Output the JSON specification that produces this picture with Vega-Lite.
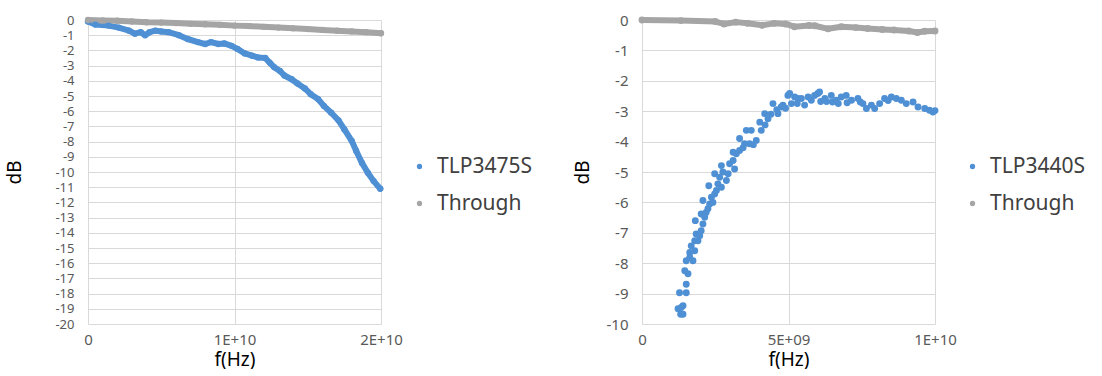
{
  "$schema": "https://vega.github.io/schema/vega-lite/v6.json",
  "background": "white",
  "padding": {"left": 5, "top": 13, "right": 0, "bottom": 0},
  "spacing": 41,
  "datasets": {
    "left": [
      {"f": 0, "db": -0.1, "s": "TLP3475S"},
      {"f": 5e8, "db": -0.3, "s": "TLP3475S"},
      {"f": 1.4e9, "db": -0.37, "s": "TLP3475S"},
      {"f": 2.1e9, "db": -0.5, "s": "TLP3475S"},
      {"f": 2.8e9, "db": -0.7, "s": "TLP3475S"},
      {"f": 3.2e9, "db": -0.9, "s": "TLP3475S"},
      {"f": 3.6e9, "db": -0.8, "s": "TLP3475S"},
      {"f": 3.9e9, "db": -1.0, "s": "TLP3475S"},
      {"f": 4.2e9, "db": -0.8, "s": "TLP3475S"},
      {"f": 4.6e9, "db": -0.7, "s": "TLP3475S"},
      {"f": 5.0e9, "db": -0.75, "s": "TLP3475S"},
      {"f": 5.5e9, "db": -0.8, "s": "TLP3475S"},
      {"f": 6.2e9, "db": -1.0, "s": "TLP3475S"},
      {"f": 6.8e9, "db": -1.25, "s": "TLP3475S"},
      {"f": 7.5e9, "db": -1.45, "s": "TLP3475S"},
      {"f": 8.0e9, "db": -1.58, "s": "TLP3475S"},
      {"f": 8.4e9, "db": -1.45, "s": "TLP3475S"},
      {"f": 8.9e9, "db": -1.58, "s": "TLP3475S"},
      {"f": 9.3e9, "db": -1.54, "s": "TLP3475S"},
      {"f": 9.8e9, "db": -1.7, "s": "TLP3475S"},
      {"f": 1.02e10, "db": -1.9, "s": "TLP3475S"},
      {"f": 1.07e10, "db": -2.2, "s": "TLP3475S"},
      {"f": 1.12e10, "db": -2.35, "s": "TLP3475S"},
      {"f": 1.16e10, "db": -2.46, "s": "TLP3475S"},
      {"f": 1.21e10, "db": -2.5, "s": "TLP3475S"},
      {"f": 1.24e10, "db": -2.8, "s": "TLP3475S"},
      {"f": 1.27e10, "db": -3.1, "s": "TLP3475S"},
      {"f": 1.31e10, "db": -3.35, "s": "TLP3475S"},
      {"f": 1.34e10, "db": -3.65, "s": "TLP3475S"},
      {"f": 1.39e10, "db": -3.9, "s": "TLP3475S"},
      {"f": 1.43e10, "db": -4.18, "s": "TLP3475S"},
      {"f": 1.48e10, "db": -4.5, "s": "TLP3475S"},
      {"f": 1.52e10, "db": -4.88, "s": "TLP3475S"},
      {"f": 1.57e10, "db": -5.2, "s": "TLP3475S"},
      {"f": 1.61e10, "db": -5.65, "s": "TLP3475S"},
      {"f": 1.66e10, "db": -6.1, "s": "TLP3475S"},
      {"f": 1.71e10, "db": -6.6, "s": "TLP3475S"},
      {"f": 1.75e10, "db": -7.2, "s": "TLP3475S"},
      {"f": 1.80e10, "db": -7.95, "s": "TLP3475S"},
      {"f": 1.83e10, "db": -8.6, "s": "TLP3475S"},
      {"f": 1.87e10, "db": -9.4, "s": "TLP3475S"},
      {"f": 1.91e10, "db": -10.05, "s": "TLP3475S"},
      {"f": 1.95e10, "db": -10.6, "s": "TLP3475S"},
      {"f": 1.995e10, "db": -11.1, "s": "TLP3475S"},
      {"f": 0, "db": 0, "s": "Through"},
      {"f": 1e9, "db": -0.03, "s": "Through"},
      {"f": 2e9, "db": -0.05, "s": "Through"},
      {"f": 3e9, "db": -0.1, "s": "Through"},
      {"f": 4e9, "db": -0.15, "s": "Through"},
      {"f": 5e9, "db": -0.17, "s": "Through"},
      {"f": 6e9, "db": -0.2, "s": "Through"},
      {"f": 7e9, "db": -0.25, "s": "Through"},
      {"f": 8e9, "db": -0.28, "s": "Through"},
      {"f": 9e9, "db": -0.32, "s": "Through"},
      {"f": 1e10, "db": -0.37, "s": "Through"},
      {"f": 1.1e10, "db": -0.4, "s": "Through"},
      {"f": 1.2e10, "db": -0.45, "s": "Through"},
      {"f": 1.3e10, "db": -0.5, "s": "Through"},
      {"f": 1.4e10, "db": -0.55, "s": "Through"},
      {"f": 1.5e10, "db": -0.6, "s": "Through"},
      {"f": 1.6e10, "db": -0.65, "s": "Through"},
      {"f": 1.7e10, "db": -0.7, "s": "Through"},
      {"f": 1.8e10, "db": -0.75, "s": "Through"},
      {"f": 1.9e10, "db": -0.8, "s": "Through"},
      {"f": 2e10, "db": -0.87, "s": "Through"}
    ],
    "right": [
      {"f": 1.23e9, "db": -9.5, "s": "TLP3440S"},
      {"f": 1.32e9, "db": -9.68, "s": "TLP3440S"},
      {"f": 1.34e9, "db": -9.46, "s": "TLP3440S"},
      {"f": 1.4e9, "db": -9.68, "s": "TLP3440S"},
      {"f": 1.4e9, "db": -9.4, "s": "TLP3440S"},
      {"f": 1.28e9, "db": -8.97, "s": "TLP3440S"},
      {"f": 1.51e9, "db": -8.97, "s": "TLP3440S"},
      {"f": 1.51e9, "db": -8.69, "s": "TLP3440S"},
      {"f": 1.46e9, "db": -8.25, "s": "TLP3440S"},
      {"f": 1.57e9, "db": -8.35, "s": "TLP3440S"},
      {"f": 1.51e9, "db": -7.92, "s": "TLP3440S"},
      {"f": 1.63e9, "db": -7.81, "s": "TLP3440S"},
      {"f": 1.74e9, "db": -7.92, "s": "TLP3440S"},
      {"f": 1.63e9, "db": -7.65, "s": "TLP3440S"},
      {"f": 1.68e9, "db": -7.43, "s": "TLP3440S"},
      {"f": 1.8e9, "db": -7.59, "s": "TLP3440S"},
      {"f": 1.8e9, "db": -7.26, "s": "TLP3440S"},
      {"f": 1.91e9, "db": -7.26, "s": "TLP3440S"},
      {"f": 1.85e9, "db": -7.04, "s": "TLP3440S"},
      {"f": 1.97e9, "db": -7.1, "s": "TLP3440S"},
      {"f": 2.02e9, "db": -6.93, "s": "TLP3440S"},
      {"f": 1.82e9, "db": -6.6, "s": "TLP3440S"},
      {"f": 2.08e9, "db": -6.71, "s": "TLP3440S"},
      {"f": 2.14e9, "db": -6.49, "s": "TLP3440S"},
      {"f": 2.02e9, "db": -6.38, "s": "TLP3440S"},
      {"f": 2.19e9, "db": -6.33, "s": "TLP3440S"},
      {"f": 2.08e9, "db": -5.94, "s": "TLP3440S"},
      {"f": 2.31e9, "db": -6.05, "s": "TLP3440S"},
      {"f": 2.25e9, "db": -6.21, "s": "TLP3440S"},
      {"f": 2.37e9, "db": -5.83, "s": "TLP3440S"},
      {"f": 2.28e9, "db": -5.45, "s": "TLP3440S"},
      {"f": 2.48e9, "db": -5.72, "s": "TLP3440S"},
      {"f": 2.42e9, "db": -6.0, "s": "TLP3440S"},
      {"f": 2.54e9, "db": -5.61, "s": "TLP3440S"},
      {"f": 2.59e9, "db": -5.39, "s": "TLP3440S"},
      {"f": 2.71e9, "db": -5.5, "s": "TLP3440S"},
      {"f": 2.48e9, "db": -5.06, "s": "TLP3440S"},
      {"f": 2.65e9, "db": -5.17, "s": "TLP3440S"},
      {"f": 2.76e9, "db": -5.0, "s": "TLP3440S"},
      {"f": 2.71e9, "db": -4.79, "s": "TLP3440S"},
      {"f": 2.88e9, "db": -5.28, "s": "TLP3440S"},
      {"f": 2.94e9, "db": -5.06, "s": "TLP3440S"},
      {"f": 2.99e9, "db": -4.73, "s": "TLP3440S"},
      {"f": 3.11e9, "db": -4.62, "s": "TLP3440S"},
      {"f": 3.16e9, "db": -4.9, "s": "TLP3440S"},
      {"f": 3.22e9, "db": -4.4, "s": "TLP3440S"},
      {"f": 3.33e9, "db": -4.29, "s": "TLP3440S"},
      {"f": 3.11e9, "db": -4.35, "s": "TLP3440S"},
      {"f": 3.33e9, "db": -3.9, "s": "TLP3440S"},
      {"f": 3.56e9, "db": -3.63, "s": "TLP3440S"},
      {"f": 3.73e9, "db": -3.63, "s": "TLP3440S"},
      {"f": 3.5e9, "db": -4.07, "s": "TLP3440S"},
      {"f": 3.67e9, "db": -4.07, "s": "TLP3440S"},
      {"f": 3.9e9, "db": -3.96, "s": "TLP3440S"},
      {"f": 3.45e9, "db": -4.2, "s": "TLP3440S"},
      {"f": 3.8e9, "db": -4.1, "s": "TLP3440S"},
      {"f": 4.02e9, "db": -3.36, "s": "TLP3440S"},
      {"f": 4.19e9, "db": -3.08, "s": "TLP3440S"},
      {"f": 4.07e9, "db": -3.63, "s": "TLP3440S"},
      {"f": 4.3e9, "db": -3.25, "s": "TLP3440S"},
      {"f": 4.2e9, "db": -3.45, "s": "TLP3440S"},
      {"f": 4.4e9, "db": -3.1, "s": "TLP3440S"},
      {"f": 4.47e9, "db": -2.75, "s": "TLP3440S"},
      {"f": 4.64e9, "db": -3.08, "s": "TLP3440S"},
      {"f": 4.6e9, "db": -2.95, "s": "TLP3440S"},
      {"f": 4.75e9, "db": -2.86, "s": "TLP3440S"},
      {"f": 4.81e9, "db": -2.8, "s": "TLP3440S"},
      {"f": 4.9e9, "db": -2.9, "s": "TLP3440S"},
      {"f": 4.98e9, "db": -2.48, "s": "TLP3440S"},
      {"f": 5.04e9, "db": -2.42, "s": "TLP3440S"},
      {"f": 5.1e9, "db": -2.75, "s": "TLP3440S"},
      {"f": 5.21e9, "db": -2.53, "s": "TLP3440S"},
      {"f": 5.32e9, "db": -2.58, "s": "TLP3440S"},
      {"f": 5.3e9, "db": -2.75, "s": "TLP3440S"},
      {"f": 5.44e9, "db": -2.58, "s": "TLP3440S"},
      {"f": 5.55e9, "db": -2.8, "s": "TLP3440S"},
      {"f": 5.67e9, "db": -2.53, "s": "TLP3440S"},
      {"f": 5.78e9, "db": -2.64, "s": "TLP3440S"},
      {"f": 5.89e9, "db": -2.48, "s": "TLP3440S"},
      {"f": 6.0e9, "db": -2.42, "s": "TLP3440S"},
      {"f": 6.06e9, "db": -2.37, "s": "TLP3440S"},
      {"f": 6.1e9, "db": -2.68, "s": "TLP3440S"},
      {"f": 6.24e9, "db": -2.58, "s": "TLP3440S"},
      {"f": 6.3e9, "db": -2.68, "s": "TLP3440S"},
      {"f": 6.46e9, "db": -2.48, "s": "TLP3440S"},
      {"f": 6.5e9, "db": -2.7, "s": "TLP3440S"},
      {"f": 6.63e9, "db": -2.64, "s": "TLP3440S"},
      {"f": 6.7e9, "db": -2.75, "s": "TLP3440S"},
      {"f": 6.8e9, "db": -2.53, "s": "TLP3440S"},
      {"f": 6.97e9, "db": -2.48, "s": "TLP3440S"},
      {"f": 7.0e9, "db": -2.72, "s": "TLP3440S"},
      {"f": 7.15e9, "db": -2.64, "s": "TLP3440S"},
      {"f": 7.37e9, "db": -2.58, "s": "TLP3440S"},
      {"f": 7.45e9, "db": -2.7, "s": "TLP3440S"},
      {"f": 7.54e9, "db": -2.75, "s": "TLP3440S"},
      {"f": 7.66e9, "db": -2.91, "s": "TLP3440S"},
      {"f": 7.83e9, "db": -2.8, "s": "TLP3440S"},
      {"f": 7.94e9, "db": -2.91, "s": "TLP3440S"},
      {"f": 8.11e9, "db": -2.75, "s": "TLP3440S"},
      {"f": 8.28e9, "db": -2.58, "s": "TLP3440S"},
      {"f": 8.4e9, "db": -2.65, "s": "TLP3440S"},
      {"f": 8.51e9, "db": -2.53, "s": "TLP3440S"},
      {"f": 8.68e9, "db": -2.58, "s": "TLP3440S"},
      {"f": 8.85e9, "db": -2.64, "s": "TLP3440S"},
      {"f": 9.02e9, "db": -2.75, "s": "TLP3440S"},
      {"f": 9.25e9, "db": -2.7, "s": "TLP3440S"},
      {"f": 9.42e9, "db": -2.86, "s": "TLP3440S"},
      {"f": 9.65e9, "db": -2.91, "s": "TLP3440S"},
      {"f": 9.81e9, "db": -2.97, "s": "TLP3440S"},
      {"f": 9.93e9, "db": -3.03, "s": "TLP3440S"},
      {"f": 1.0e10, "db": -2.98, "s": "TLP3440S"},
      {"f": 0, "db": 0, "s": "Through"},
      {"f": 1.33e9, "db": -0.02, "s": "Through"},
      {"f": 2.5e9, "db": -0.05, "s": "Through"},
      {"f": 2.8e9, "db": -0.13, "s": "Through"},
      {"f": 3.2e9, "db": -0.07, "s": "Through"},
      {"f": 3.6e9, "db": -0.11, "s": "Through"},
      {"f": 4.1e9, "db": -0.17, "s": "Through"},
      {"f": 4.5e9, "db": -0.11, "s": "Through"},
      {"f": 4.9e9, "db": -0.13, "s": "Through"},
      {"f": 5.2e9, "db": -0.22, "s": "Through"},
      {"f": 5.7e9, "db": -0.18, "s": "Through"},
      {"f": 5.9e9, "db": -0.19, "s": "Through"},
      {"f": 6.35e9, "db": -0.29, "s": "Through"},
      {"f": 6.8e9, "db": -0.22, "s": "Through"},
      {"f": 7.3e9, "db": -0.25, "s": "Through"},
      {"f": 7.7e9, "db": -0.28, "s": "Through"},
      {"f": 8.2e9, "db": -0.31, "s": "Through"},
      {"f": 8.6e9, "db": -0.33, "s": "Through"},
      {"f": 9.1e9, "db": -0.36, "s": "Through"},
      {"f": 9.4e9, "db": -0.41, "s": "Through"},
      {"f": 9.65e9, "db": -0.37, "s": "Through"},
      {"f": 1e10, "db": -0.36, "s": "Through"}
    ]
  },
  "hconcat": [
    {
      "width": 293,
      "height": 304,
      "data": {"name": "left"},
      "encoding": {
        "x": {"field": "f", "type": "quantitative", "scale": {"domain": [0, 2e10], "nice": false, "zero": false},
          "axis": {"values": [0, 1e10, 2e10], "title": "f(Hz)", "labelExpr": "datum.value == 0 ? '0' : datum.value == 1e10 ? '1E+10' : '2E+10'"}},
        "y": {"field": "db", "type": "quantitative", "scale": {"domain": [-20, 0], "nice": false},
          "axis": {"values": [0, -1, -2, -3, -4, -5, -6, -7, -8, -9, -10, -11, -12, -13, -14, -15, -16, -17, -18, -19, -20], "title": "dB", "titlePadding": 30, "labelFontSize": 13}}
      },
      "layer": [
        {"mark": {"type": "line", "strokeWidth": 6, "strokeCap": "round", "strokeJoin": "round"},
          "encoding": {"stroke": {"field": "s", "type": "nominal", "scale": {"domain": ["TLP3475S", "Through"], "range": ["#4f90d4", "#a5a5a5"]}, "legend": null}}},
        {"mark": {"type": "point", "filled": true, "opacity": 1, "size": 40, "shape": "circle"},
          "encoding": {"color": {"field": "s", "type": "nominal", "scale": {"domain": ["TLP3475S", "Through"], "range": ["#4f90d4", "#a5a5a5"]},
            "legend": {"orient": "none", "legendX": 321, "legendY": 136, "title": null}}}}
      ]
    },
    {
      "width": 293,
      "height": 304,
      "data": {"name": "right"},
      "encoding": {
        "x": {"field": "f", "type": "quantitative", "scale": {"domain": [0, 1e10], "nice": false, "zero": false},
          "axis": {"values": [0, 5e9, 1e10], "title": "f(Hz)", "labelExpr": "datum.value == 0 ? '0' : datum.value == 5e9 ? '5E+09' : '1E+10'"}},
        "y": {"field": "db", "type": "quantitative", "scale": {"domain": [-10, 0], "nice": false},
          "axis": {"values": [0, -1, -2, -3, -4, -5, -6, -7, -8, -9, -10], "title": "dB", "titlePadding": 14}}
      },
      "layer": [
        {"transform": [{"filter": "datum.s == 'Through'"}],
          "mark": {"type": "line", "strokeWidth": 6, "strokeCap": "round", "strokeJoin": "round", "color": "#a5a5a5"}, "encoding": {}},
        {"mark": {"type": "point", "filled": true, "opacity": 1, "size": 48, "shape": "circle"},
          "encoding": {"color": {"field": "s", "type": "nominal", "scale": {"domain": ["TLP3440S", "Through"], "range": ["#4f90d4", "#a5a5a5"]},
            "legend": {"orient": "none", "legendX": 320, "legendY": 136, "title": null}}}}
      ]
    }
  ],
  "resolve": {"scale": {"color": "independent", "x": "independent", "y": "independent"}, "legend": {"color": "independent"}},
  "config": {
    "view": {"stroke": null},
    "font": "Noto Sans",
    "axis": {
      "grid": true, "gridColor": "#d9d9d9", "gridWidth": 1, "domain": false, "ticks": false,
      "labelColor": "#595959", "labelFontSize": 15, "labelFont": "Noto Sans", "labelFlush": false,
      "titleFont": "Noto Sans", "titleFontSize": 19, "titleFontWeight": "normal", "titleColor": "#000000"
    },
    "axisY": {"labelPadding": 14, "labelExpr": "datum.value == 0 ? '0' : '-' + abs(datum.value)"},
    "axisX": {"labelPadding": 8, "labelFontSize": 15, "titlePadding": 3},
    "legend": {"padding": 0, "labelFontSize": 21, "labelColor": "#404040", "labelFont": "Noto Sans", "symbolType": "circle", "symbolSize": 28, "symbolStrokeWidth": 0, "rowPadding": 15, "labelOffset": 7, "symbolOffset": 0}
  }
}
